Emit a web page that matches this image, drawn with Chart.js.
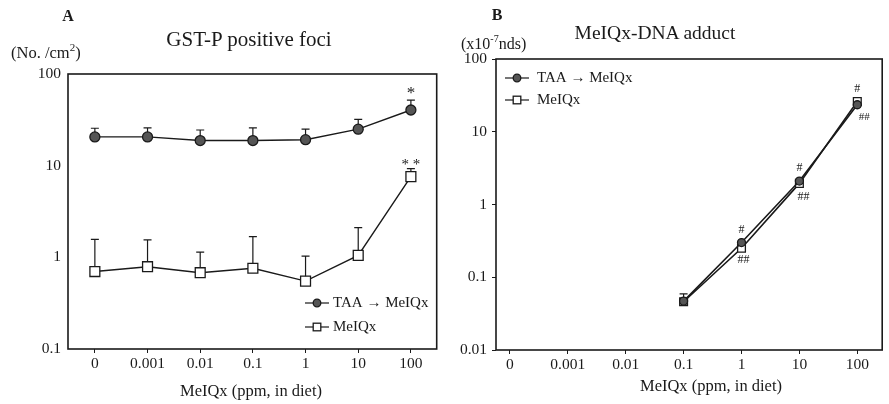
<!DOCTYPE html>
<html>
<head>
<meta charset="utf-8">
<script src="https://cdn.jsdelivr.net/npm/chart.js@4.4.1/dist/chart.umd.min.js"></script>
<style>
  body { margin: 0; background: #fff; width: 889px; height: 404px; overflow: hidden; position: relative;
         font-family: "Liberation Serif", "DejaVu Serif", serif; color: #1a1a1a; }
  .box { position: absolute; top: 0; height: 404px; }
  .t { position: absolute; transform: translate(-50%, -50%); white-space: nowrap; }
  .l { position: absolute; transform: translateY(-50%); white-space: nowrap; }
</style>
</head>
<body>
<div class="box" style="left:0;width:445px"><canvas id="chartA"></canvas></div>
<div class="box" style="left:445px;width:444px"><canvas id="chartB"></canvas></div>

<div class="t" style="left:68px;top:16px;font-weight:bold;font-size:16px">A</div>
<div class="t" style="left:249px;top:39px;font-size:21px">GST-P positive foci</div>
<div class="l" style="left:11px;top:52px;font-size:16.5px">(No. /cm<sup style="font-size:11px">2</sup>)</div>
<div class="t" style="left:251px;top:391px;font-size:16.5px">MeIQx (ppm, in diet)</div>

<div class="t" style="left:497px;top:15px;font-weight:bold;font-size:16px">B</div>
<div class="l" style="left:461px;top:43px;font-size:16px">(x10<sup style="font-size:10px">-7</sup>nds)</div>
<div class="t" style="left:655px;top:33px;font-size:19.5px">MeIQx-DNA adduct</div>
<div class="t" style="left:711px;top:386px;font-size:16.5px">MeIQx (ppm, in diet)</div>

<script>
// doses on the x axis
const doses = ['0', '0.001', '0.01', '0.1', '1', '10', '100'];
const logTicksA = [0.1, 1, 10, 100];
const logTicksB = [0.01, 0.1, 1, 10, 100];

// A: GST-P positive foci (No./cm2), mean and top of error bar
const fociTAA = [20.6, 20.6, 18.8, 18.8, 19.2, 25, 40.5];
const fociTAAUp = [25.6, 25.9, 24.5, 25.9, 25, 32, 52];
const fociMeIQx = [0.70, 0.79, 0.68, 0.76, 0.55, 1.05, 7.6];
const fociMeIQxUp = [1.57, 1.55, 1.14, 1.68, 1.03, 2.11, 9.3];

// B: MeIQx-DNA adduct (x10-7 nds)
const adductTAA = [null, null, null, 0.047, 0.30, 2.1, 23.5];
const adductTAAUp = [null, null, null, 0.059, null, null, null];
const adductMeIQx = [null, null, null, 0.046, 0.25, 1.95, 26];
const adductMeIQxUp = [null, null, null, null, null, null, null];

const serif = '"Liberation Serif", "DejaVu Serif", serif';
const ink = '#1a1a1a';

function toXY(arr) {
    return arr.map((v, i) => ({ x: i, y: v }));
}

function marker(ctx, style, x, y, r) {
    ctx.save();
    ctx.lineWidth = 1.3;
    ctx.strokeStyle = ink;
    if (style === 'circle') {
        ctx.fillStyle = '#555';
        ctx.beginPath();
        ctx.arc(x, y, r, 0, Math.PI * 2);
        ctx.fill();
        ctx.stroke();
    } else {
        ctx.fillStyle = '#fff';
        ctx.fillRect(x - r, y - r, 2 * r, 2 * r);
        ctx.strokeRect(x - r, y - r, 2 * r, 2 * r);
    }
    ctx.restore();
}

// frame, error bars, inside legend and significance marks
const extras = {
    id: 'extras',
    beforeDatasetsDraw(chart) {
        const ctx = chart.ctx, xs = chart.scales.x, ys = chart.scales.y;
        ctx.save();
        ctx.strokeStyle = ink;
        ctx.lineWidth = 1.2;
        chart.data.datasets.forEach(ds => {
            (ds.errUp || []).forEach((up, i) => {
                if (up == null || ds.data[i].y == null) return;
                const x = xs.getPixelForValue(i);
                const y0 = ys.getPixelForValue(ds.data[i].y);
                const y1 = ys.getPixelForValue(up);
                ctx.beginPath();
                ctx.moveTo(x, y0);
                ctx.lineTo(x, y1);
                ctx.moveTo(x - 4, y1);
                ctx.lineTo(x + 4, y1);
                ctx.stroke();
            });
        });
        ctx.restore();
    },
    afterDraw(chart, args, opts) {
        const ctx = chart.ctx, a = chart.chartArea;
        const xs = chart.scales.x, ys = chart.scales.y;
        ctx.save();
        ctx.strokeStyle = ink;
        ctx.lineWidth = 1.6;
        ctx.strokeRect(a.left, a.top, a.right - a.left, a.bottom - a.top);

        // legend inside the plot
        const lg = opts.legend;
        ctx.font = '15px ' + serif;
        ctx.fillStyle = ink;
        ctx.textBaseline = 'middle';
        chart.data.datasets.forEach((ds, k) => {
            const y = lg.y + k * lg.gap;
            ctx.lineWidth = 1.2;
            ctx.beginPath();
            ctx.moveTo(lg.x, y);
            ctx.lineTo(lg.x + 24, y);
            ctx.stroke();
            marker(ctx, ds.pointStyle, lg.x + 12, y, 3.8);
            ctx.fillText(ds.label, lg.x + lg.textDx, y);
        });

        // significance marks
        ctx.textAlign = 'center';
        (opts.marks || []).forEach(m => {
            ctx.font = m.size + 'px ' + serif;
            const x = xs.getPixelForValue(m.i) + m.dx;
            const y = ys.getPixelForValue(m.v) + m.dy;
            ctx.fillText(m.text, x, y);
        });
        ctx.restore();
    }
};

function makeChart(id, opt) {
    return new Chart(document.getElementById(id), {
        type: 'line',
        data: {
            datasets: [{
                label: 'TAA \u2192 MeIQx',
                data: toXY(opt.taa),
                errUp: opt.taaUp,
                pointStyle: 'circle',
                pointRadius: opt.circleR,
                pointBackgroundColor: '#555',
                pointBorderColor: ink,
                pointBorderWidth: 1.3,
                borderColor: ink,
                borderWidth: opt.lineW,
                spanGaps: false
            }, {
                label: 'MeIQx',
                data: toXY(opt.meiqx),
                errUp: opt.meiqxUp,
                pointStyle: 'rect',
                pointRadius: opt.rectR,
                pointBackgroundColor: '#fff',
                pointBorderColor: ink,
                pointBorderWidth: 1.3,
                borderColor: ink,
                borderWidth: opt.lineW,
                spanGaps: false
            }]
        },
        options: {
            responsive: true,
            maintainAspectRatio: false,
            animation: false,
            events: [],
            layout: { padding: { left: 0, top: opt.top, right: opt.right, bottom: 0 } },
            plugins: {
                legend: { display: false },
                tooltip: { enabled: false },
                extras: { legend: opt.legend, marks: opt.marks }
            },
            scales: {
                x: {
                    type: 'linear',
                    min: opt.xMin,
                    max: opt.xMax,
                    afterBuildTicks: s => { s.ticks = doses.map((d, i) => ({ value: i })); },
                    afterFit: s => { s.height = 404 - opt.bottom; },
                    ticks: {
                        color: ink,
                        font: { family: serif, size: 15.5 },
                        padding: 2,
                        maxRotation: 0,
                        callback: v => doses[v]
                    },
                    grid: { drawOnChartArea: false, tickLength: 4, color: ink },
                    border: { display: false }
                },
                y: {
                    type: 'logarithmic',
                    min: opt.yMin,
                    max: opt.yMax,
                    afterBuildTicks: s => { s.ticks = opt.yTicks.map(v => ({ value: v })); },
                    afterFit: s => { s.width = opt.left; },
                    ticks: {
                        color: ink,
                        font: { family: serif, size: 15.5 },
                        padding: opt.yPad,
                        callback: v => String(v)
                    },
                    grid: { drawOnChartArea: false, tickLength: opt.yTick, color: ink },
                    border: { display: false }
                }
            }
        },
        plugins: [extras]
    });
}

makeChart('chartA', {
    taa: fociTAA, taaUp: fociTAAUp, meiqx: fociMeIQx, meiqxUp: fociMeIQxUp,
    circleR: 5, rectR: 7, lineW: 1.4,
    top: 74, right: 8, bottom: 349, left: 68,
    xMin: -0.51, xMax: 6.49,
    yMin: 0.1, yMax: 100, yTicks: logTicksA, yPad: 7, yTick: 0,
    legend: { x: 305, y: 303, gap: 24, textDx: 28 },
    marks: [
        { i: 6, v: 52, dx: 0, dy: -7, text: '*', size: 17 },
        { i: 6, v: 9.3, dx: 0, dy: -3, text: '* *', size: 15 }
    ]
});

makeChart('chartB', {
    taa: adductTAA, taaUp: adductTAAUp, meiqx: adductMeIQx, meiqxUp: adductMeIQxUp,
    circleR: 4, rectR: 5.5, lineW: 1.6,
    top: 59, right: 1, bottom: 350, left: 51,
    xMin: -0.24, xMax: 6.43,
    yMin: 0.01, yMax: 100, yTicks: logTicksB, yPad: 5, yTick: 4,
    legend: { x: 60, y: 78, gap: 22, textDx: 32 },
    marks: [
        { i: 4, v: 0.30, dx: 0, dy: -13, text: '#', size: 12 },
        { i: 4, v: 0.25, dx: 2, dy: 12, text: '##', size: 12 },
        { i: 5, v: 2.1, dx: 0, dy: -13, text: '#', size: 12 },
        { i: 5, v: 1.95, dx: 4, dy: 13, text: '##', size: 12 },
        { i: 6, v: 26, dx: 0, dy: -13, text: '#', size: 12 },
        { i: 6, v: 23.5, dx: 7, dy: 12, text: '##', size: 11 }
    ]
});
</script>
</body>
</html>
